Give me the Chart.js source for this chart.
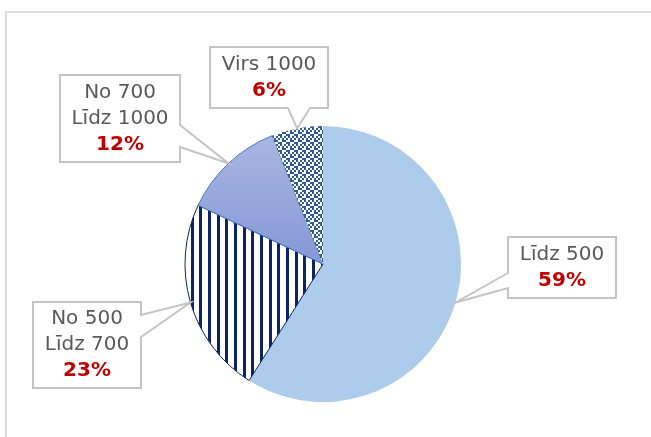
<!DOCTYPE html>
<html>
<head>
<meta charset="utf-8">
<script src="https://cdn.jsdelivr.net/npm/chart.js@4"></script>
<style>
    body { margin: 0; background: #ffffff; }
    #wrap { width: 651px; height: 437px; position: relative; }
</style>
</head>
<body>
<div id="wrap"><canvas id="chartCanvas" width="651" height="437"></canvas></div>
<script>
const categories = [['Līdz 500'], ['No 500', 'Līdz 700'], ['No 700', 'Līdz 1000'], ['Virs 1000']];
const shares = [59, 23, 12, 6];

// callout boxes: rect + side where the pointer leaves it
const callouts = [
    { x: 508, y: 237, w: 108, h: 61, side: 'left', a: 273, b: 288 },
    { x: 33, y: 302, w: 108, h: 86, side: 'right', a: 315, b: 337 },
    { x: 60, y: 75, w: 120, h: 87, side: 'right', a: 125, b: 147 },
    { x: 210, y: 47, w: 118, h: 61, side: 'bottom', a: 288, b: 310 }
];

function stripePattern() {
    const c = document.createElement('canvas');
    c.width = 26; c.height = 4;
    const g = c.getContext('2d');
    g.fillStyle = '#ffffff';
    g.fillRect(0, 0, 26, 4);
    g.fillStyle = '#0a2466';
    [0, 9, 17].forEach(x => g.fillRect(x, 0, 3, 4));
    return c;
}

function weavePattern() {
    const c = document.createElement('canvas');
    c.width = 8; c.height = 8;
    const g = c.getContext('2d');
    g.fillStyle = '#ffffff';
    g.fillRect(0, 0, 8, 8);
    g.fillStyle = '#2f5d92';
    const dots = [[0,0],[2,2],[4,4],[6,2],[0,6],[2,4],[4,0],[6,6]];
    dots.forEach(d => g.fillRect(d[0], d[1], 2, 2));
    return c;
}

let stripes, weave;

function sliceColor(context) {
    const ctx = context.chart.ctx;
    const i = context.dataIndex;
    if (i === 0) return '#adcbea';
    if (i === 1) return stripes || (stripes = ctx.createPattern(stripePattern(), 'repeat'));
    if (i === 2) {
        const grad = ctx.createLinearGradient(0, 130, 0, 264);
        grad.addColorStop(0, '#abb7e1');
        grad.addColorStop(1, '#8498d6');
        return grad;
    }
    return weave || (weave = ctx.createPattern(weavePattern(), 'repeat'));
}

const framePlugin = {
    id: 'frame',
    beforeDraw(chart) {
        const ctx = chart.ctx;
        ctx.save();
        ctx.strokeStyle = '#dcdcdc';
        ctx.lineWidth = 2;
        ctx.strokeRect(6, 12, 700, 500);
        ctx.restore();
    }
};

const calloutPlugin = {
    id: 'callouts',
    afterDraw(chart) {
        const ctx = chart.ctx;
        const arcs = chart.getDatasetMeta(0).data;
        ctx.save();
        arcs.forEach((arc, i) => {
            const mid = (arc.startAngle + arc.endAngle) / 2;
            const tx = arc.x + Math.cos(mid) * arc.outerRadius;
            const ty = arc.y + Math.sin(mid) * arc.outerRadius;
            const c = callouts[i];
            const r = c.x + c.w, bt = c.y + c.h;
            ctx.beginPath();
            ctx.moveTo(c.x, c.y);
            ctx.lineTo(r, c.y);
            if (c.side === 'right') {
                ctx.lineTo(r, c.a); ctx.lineTo(tx, ty); ctx.lineTo(r, c.b);
            }
            ctx.lineTo(r, bt);
            if (c.side === 'bottom') {
                ctx.lineTo(c.b, bt); ctx.lineTo(tx, ty); ctx.lineTo(c.a, bt);
            }
            ctx.lineTo(c.x, bt);
            if (c.side === 'left') {
                ctx.lineTo(c.x, c.b); ctx.lineTo(tx, ty); ctx.lineTo(c.x, c.a);
            }
            ctx.closePath();
            ctx.fillStyle = '#ffffff';
            ctx.fill();
            ctx.strokeStyle = '#c4c4c4';
            ctx.lineWidth = 2;
            ctx.stroke();

            const lines = categories[i];
            const n = lines.length + 1;
            const lh = 26;
            const cx = c.x + c.w / 2;
            let y = c.y + c.h / 2 - (n - 1) * lh / 2;
            ctx.textAlign = 'center';
            ctx.textBaseline = 'middle';
            ctx.font = '20px "DejaVu Sans", Verdana, sans-serif';
            ctx.fillStyle = '#595959';
            lines.forEach(t => { ctx.fillText(t, cx, y); y += lh; });
            ctx.font = 'bold 20px "DejaVu Sans", Verdana, sans-serif';
            ctx.fillStyle = '#c00000';
            ctx.fillText(shares[i] + '%', cx, y);
        });
        ctx.restore();
    }
};

new Chart(document.getElementById('chartCanvas').getContext('2d'), {
    type: 'pie',
    data: {
        labels: categories,
        datasets: [{
            data: shares,
            backgroundColor: sliceColor,
            borderColor: ['#adcbea', '#0a2466', '#4a74c6', '#ffffff'],
            borderWidth: [0, 1, 1, 0],
            radius: 138
        }]
    },
    options: {
        responsive: false,
        animation: false,
        layout: { padding: { left: 185, right: 190, top: 126, bottom: 35 } },
        plugins: {
            legend: { display: false },
            tooltip: { enabled: false }
        }
    },
    plugins: [framePlugin, calloutPlugin]
});
</script>
</body>
</html>
